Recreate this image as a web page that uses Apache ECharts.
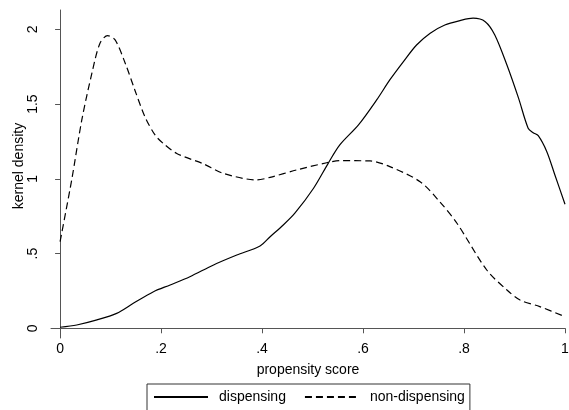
<!DOCTYPE html>
<html>
<head>
<meta charset="utf-8">
<script src="https://cdn.jsdelivr.net/npm/echarts@6/dist/echarts.min.js"></script>
<style>
  html, body { margin: 0; padding: 0; background: #fff; }
  #chart { width: 569px; height: 410px; }
</style>
</head>
<body>
<div id="chart"></div>
<script>
// kernel density of propensity score
var dispX = [0, 0.033, 0.073, 0.112, 0.145, 0.185, 0.218, 0.257, 0.304, 0.350, 0.396, 0.416, 0.442, 0.465,
             0.502, 0.531, 0.554, 0.591, 0.627, 0.653, 0.680, 0.706, 0.733, 0.762, 0.792, 0.818, 0.842,
             0.861, 0.885, 0.908, 0.927, 0.937, 0.947, 0.964, 0.980, 1.0];
var dispY = [0.007, 0.022, 0.056, 0.10, 0.167, 0.245, 0.29, 0.345, 0.424, 0.49, 0.551, 0.613, 0.691, 0.77,
             0.937, 1.104, 1.227, 1.361, 1.528, 1.662, 1.785, 1.896, 1.975, 2.03, 2.059, 2.075, 2.052,
             1.963, 1.762, 1.54, 1.339, 1.309, 1.289, 1.182, 1.026, 0.83];
var nonX = [0, 0.023, 0.043, 0.063, 0.079, 0.094, 0.109, 0.129, 0.148, 0.168, 0.188, 0.204, 0.231, 0.284,
            0.323, 0.389, 0.416, 0.469, 0.528, 0.554, 0.614, 0.653, 0.713, 0.752, 0.786, 0.845, 0.885,
            0.911, 0.950, 1.0];
var nonY = [0.58, 0.993, 1.394, 1.707, 1.908, 1.958, 1.93, 1.774, 1.595, 1.416, 1.294, 1.238, 1.17, 1.10,
            1.037, 0.993, 1.01, 1.06, 1.108, 1.122, 1.12, 1.082, 0.981, 0.847, 0.703, 0.39, 0.256,
            0.189, 0.145, 0.078];
var xTicks = [0, 0.2, 0.4, 0.6, 0.8, 1];
var yTicks = [0, 0.5, 1, 1.5, 2];
var seriesNames = ['dispensing', 'non-dispensing'];

function pairs(xs, ys) {
    return xs.map(function (x, i) { return [x, ys[i]]; });
}
function stataNum(v) {
    // Stata drops the leading zero: .2, .5
    var s = String(Math.round(v * 10) / 10);
    return s.indexOf('0.') === 0 ? s.slice(1) : s;
}

var font = 'Liberation Sans, Arial, sans-serif';
var axisColor = '#555';

var chart = echarts.init(document.getElementById('chart'));
chart.setOption({
    animation: false,
    grid: { left: 51, right: 4, top: 10, bottom: 72, outerBoundsMode: 'none' },
    legend: {
        data: seriesNames,
        left: 147,
        top: 384,
        orient: 'horizontal',
        itemWidth: 54,
        itemHeight: 14,
        itemGap: 18,
        padding: [6, 5, 20, 6],
        borderColor: '#333',
        borderWidth: 1,
        itemStyle: { opacity: 0 },
        textStyle: { fontFamily: font, fontSize: 14, color: '#000', padding: [0, 0, 0, 6] }
    },
    xAxis: {
        type: 'value',
        min: -0.018,
        max: 1.0,
        name: 'propensity score',
        nameLocation: 'middle',
        nameGap: 25,
        nameMoveOverlap: false,
        nameTextStyle: { fontFamily: font, fontSize: 14, color: '#000' },
        axisLine: { lineStyle: { color: axisColor, width: 1 } },
        axisTick: { show: true, length: 5, customValues: xTicks, lineStyle: { color: axisColor } },
        axisLabel: {
            customValues: xTicks,
            margin: 4,
            fontFamily: font, fontSize: 14, color: '#000',
            formatter: stataNum
        },
        splitLine: { show: false }
    },
    yAxis: {
        type: 'value',
        min: -0.065,
        max: 2.13,
        name: 'kernel density',
        nameLocation: 'middle',
        nameGap: 25,
        nameRotate: 90,
        nameMoveOverlap: false,
        nameTextStyle: { fontFamily: font, fontSize: 14, color: '#000', padding: [0, 0, 0, 16] },
        axisLine: { show: true, lineStyle: { color: axisColor, width: 1 } },
        axisTick: { show: true, length: 5, customValues: yTicks, lineStyle: { color: axisColor } },
        axisLabel: {
            customValues: yTicks,
            rotate: 90,
            margin: 11,
            fontFamily: font, fontSize: 14, color: '#000',
            formatter: stataNum
        },
        splitLine: { show: false }
    },
    series: [
        {
            name: seriesNames[0],
            type: 'line',
            data: pairs(dispX, dispY),
            smooth: 0.3,
            symbol: 'none',
            lineStyle: { color: '#000', width: 1.2, type: 'solid' },
            itemStyle: { color: '#000' }
        },
        {
            name: seriesNames[1],
            type: 'line',
            data: pairs(nonX, nonY),
            smooth: 0.3,
            symbol: 'none',
            lineStyle: { color: '#000', width: 1.2, type: [7, 4] },
            itemStyle: { color: '#000' }
        }
    ]
});
</script>
</body>
</html>
